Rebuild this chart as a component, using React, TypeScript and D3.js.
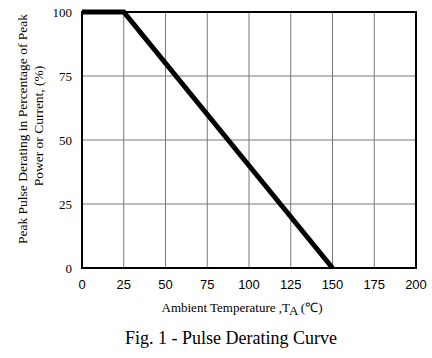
import React from "react";
import * as d3 from "d3";

const temps = [0, 25, 150];
const derating = [100, 100, 0];
const xTicks = [0, 25, 50, 75, 100, 125, 150, 175, 200];
const yTicks = [0, 25, 50, 75, 100];

export default function App() {
  const W = 432, H = 358;
  const L = 82, R = 416, T = 12, B = 268;
  const x = d3.scaleLinear().domain([0, 200]).range([L, R]);
  const y = d3.scaleLinear().domain([0, 100]).range([B, T]);
  const line = d3.line<number>().x((d, i) => x(temps[i])).y((d) => y(d));
  const serif = "'Liberation Serif', 'Times New Roman', serif";
  const sans = "'Liberation Sans', Arial, sans-serif";
  return (
    <svg width={W} height={H} style={{ position: "absolute", left: 0, top: 0, background: "#fff" }}>
      <rect x={0} y={0} width={W} height={H} fill="#fff" />
      {xTicks.slice(1, -1).map((t) => (
        <line key={"gx" + t} x1={x(t)} x2={x(t)} y1={T} y2={B} stroke="#777" strokeWidth={1} />
      ))}
      {yTicks.slice(1, -1).map((t) => (
        <line key={"gy" + t} x1={L} x2={R} y1={y(t)} y2={y(t)} stroke="#777" strokeWidth={1} />
      ))}
      <rect x={L} y={T} width={R - L} height={B - T} fill="none" stroke="#000" strokeWidth={2} />
      <path d={line(derating) || ""} fill="none" stroke="#000" strokeWidth={5} strokeLinejoin="miter" />
      {yTicks.map((t) => (
        <text key={"yl" + t} x={72} y={y(t) + 5} textAnchor="end" fontFamily={serif} fontSize={13} fill="#000">{t}</text>
      ))}
      {xTicks.map((t) => (
        <text key={"xl" + t} x={x(t)} y={289} textAnchor="middle" fontFamily={sans} fontSize={13} fill="#000">{t}</text>
      ))}
      <g transform="translate(27,129) rotate(-90)">
        <text x={0} y={0} textAnchor="middle" fontFamily={serif} fontSize={13.5} fill="#000">Peak Pulse Derating in Percentage of Peak</text>
        <text x={3} y={16} textAnchor="middle" fontFamily={serif} fontSize={13.5} fill="#000">Power or Current, (%)</text>
      </g>
      <text x={242} y={312} textAnchor="middle" fontFamily={serif} fontSize={13} fill="#000">
        Ambient Temperature ,T<tspan dy={3}>A</tspan><tspan dy={-3}>  (℃)</tspan>
      </text>
      <text x={231} y={344} textAnchor="middle" fontFamily={serif} fontSize={18} fill="#000">Fig. 1 - Pulse Derating Curve</text>
    </svg>
  );
}
